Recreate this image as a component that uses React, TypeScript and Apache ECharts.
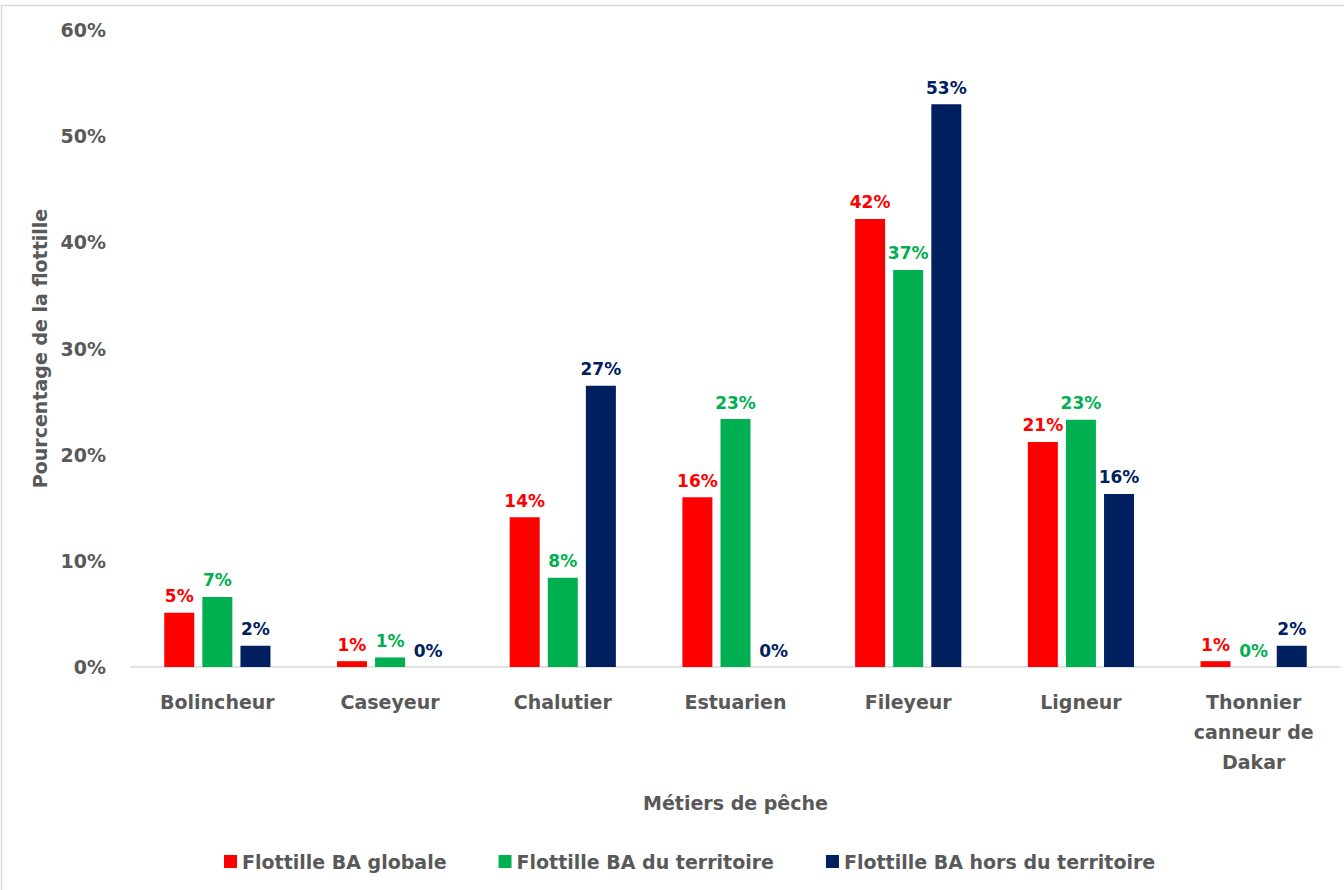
import React, { useEffect, useRef } from "react";
import * as echarts from "echarts";

const categories = [
  "Bolincheur",
  "Caseyeur",
  "Chalutier",
  "Estuarien",
  "Fileyeur",
  "Ligneur",
  "Thonnier\ncanneur de\nDakar",
];
const seriesNames = [
  "Flottille BA globale",
  "Flottille BA du territoire",
  "Flottille BA hors du territoire",
];
const globale = [5.1, 0.55, 14.1, 16.0, 42.2, 21.2, 0.55];
const territoire = [6.6, 0.9, 8.4, 23.35, 37.4, 23.3, 0];
const horsTerritoire = [2.0, 0, 26.5, 0, 53.0, 16.3, 2.0];
const colors = ["#FF0000", "#00B050", "#002060"];
const yTicks = { min: 0, max: 60, interval: 10 };

const FONT = "DejaVu Sans";
const GRAY = "#595959";

export default function App() {
  const ref = useRef<HTMLDivElement>(null);
  useEffect(() => {
    if (!ref.current) return;
    const chart = echarts.init(ref.current, null, { renderer: "svg" });
    const data = [globale, territoire, horsTerritoire];
    chart.setOption({
      animation: false,
      backgroundColor: "#ffffff",
      graphic: [
        {
          type: "rect",
          shape: { x: 1.5, y: 5.5, width: 1500, height: 1000 },
          style: { fill: "none", stroke: "#D9D9D9", lineWidth: 1.5 },
          silent: true,
        },
      ],
      grid: { left: 131, right: 4, top: 30, bottom: 223 },
      legend: {
        data: seriesNames,
        top: 847,
        left: 219,
        icon: "rect",
        itemWidth: 13,
        itemHeight: 13,
        itemGap: 52,
        textStyle: {
          fontFamily: FONT,
          fontWeight: "bold",
          fontSize: 19,
          color: GRAY,
        },
      },
      xAxis: {
        type: "category",
        data: categories,
        name: "Métiers de pêche",
        nameLocation: "middle",
        nameGap: 126,
        nameTextStyle: {
          fontFamily: FONT,
          fontWeight: "bold",
          fontSize: 19,
          color: GRAY,
        },
        axisLine: { lineStyle: { color: "#D9D9D9", width: 1.5 } },
        axisTick: { show: false },
        axisLabel: {
          fontFamily: FONT,
          fontWeight: "bold",
          fontSize: 19,
          color: GRAY,
          margin: 20,
          lineHeight: 30,
          interval: 0,
        },
      },
      yAxis: {
        type: "value",
        min: yTicks.min,
        max: yTicks.max,
        interval: yTicks.interval,
        name: "Pourcentage de la flottille",
        nameLocation: "middle",
        nameGap: 80,
        nameTextStyle: {
          fontFamily: FONT,
          fontWeight: "bold",
          fontSize: 19,
          color: GRAY,
        },
        splitLine: { show: false },
        axisLine: { show: false },
        axisTick: { show: false },
        axisLabel: {
          formatter: "{value}%",
          fontFamily: FONT,
          fontWeight: "bold",
          fontSize: 19,
          color: GRAY,
          margin: 25,
        },
      },
      series: seriesNames.map((name, i) => ({
        name,
        type: "bar",
        data: data[i],
        barWidth: 30,
        barGap: "27%",
        itemStyle: { color: colors[i] },
        label: {
          show: true,
          position: "top",
          distance: 8,
          formatter: (p: any) => Math.round(p.value) + "%",
          fontFamily: FONT,
          fontWeight: "bold",
          fontSize: 17,
          color: colors[i],
        },
      })),
    });
    return () => chart.dispose();
  }, []);
  return (
    <div
      ref={ref}
      style={{ position: "absolute", left: 0, top: 0, width: 1344, height: 890 }}
    />
  );
}
